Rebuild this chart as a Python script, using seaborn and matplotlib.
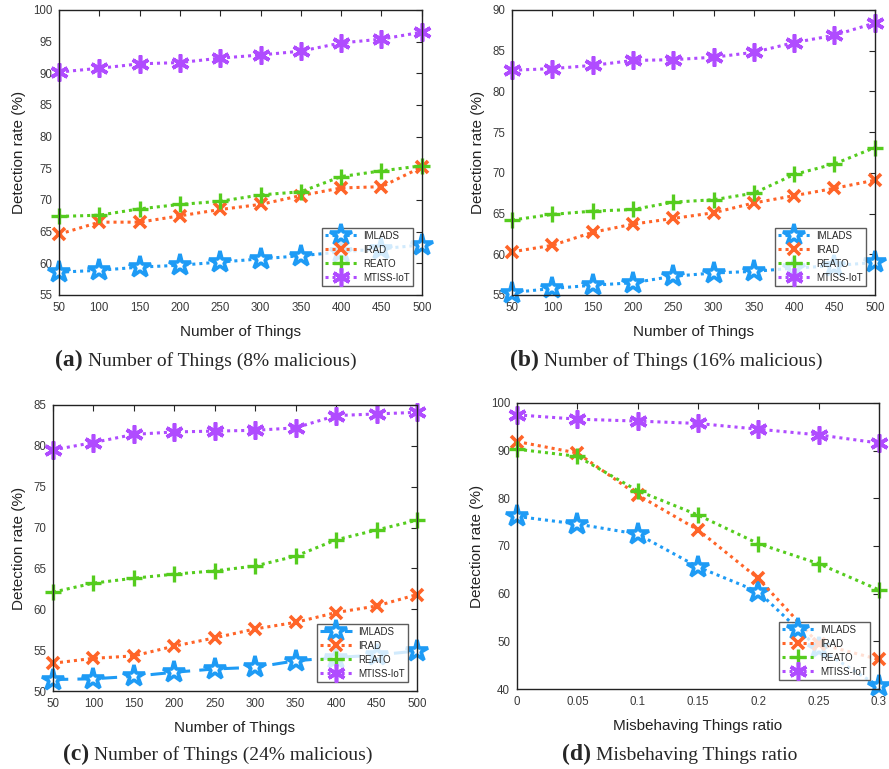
import numpy as np
import pandas as pd
import matplotlib
matplotlib.use("Agg")
import matplotlib.pyplot as plt
import seaborn as sns

sns.set_style("white")
plt.rcParams['font.family'] = ['Liberation Sans', 'DejaVu Sans']

# ── Data ──────────────────────────────────────────────
things = [50, 100, 150, 200, 250, 300, 350, 400, 450, 500]
ratio = [0, 0.05, 0.1, 0.15, 0.2, 0.25, 0.3]

a_imlads = [58.6, 58.9, 59.4, 59.7, 60.2, 60.7, 61.2, 61.8, 62.3, 62.9]
a_irad   = [64.6, 66.5, 66.5, 67.5, 68.5, 69.3, 70.7, 71.9, 72.1, 75.2]
a_reato  = [67.4, 67.6, 68.6, 69.3, 69.8, 70.8, 71.3, 73.7, 74.6, 75.4]
a_mtiss  = [90.2, 90.8, 91.5, 91.7, 92.4, 92.9, 93.5, 94.8, 95.4, 96.5]

b_imlads = [55.3, 55.8, 56.2, 56.5, 57.3, 57.7, 57.9, 58.3, 58.6, 59.0]
b_irad   = [60.3, 61.1, 62.7, 63.7, 64.4, 65.1, 66.3, 67.2, 68.1, 69.1]
b_reato  = [64.2, 64.9, 65.3, 65.5, 66.4, 66.7, 67.5, 69.8, 71.1, 73.1]
b_mtiss  = [82.6, 82.8, 83.2, 83.8, 83.9, 84.2, 84.8, 86.0, 86.9, 88.4]

c_imlads = [51.4, 51.5, 51.8, 52.3, 52.7, 52.9, 53.7, 54.1, 54.4, 54.9]
c_irad   = [53.4, 54.0, 54.3, 55.5, 56.5, 57.6, 58.4, 59.6, 60.4, 61.8]
c_reato  = [62.1, 63.2, 63.8, 64.3, 64.7, 65.3, 66.5, 68.5, 69.7, 70.9]
c_mtiss  = [79.5, 80.4, 81.4, 81.7, 81.8, 81.9, 82.2, 83.7, 83.9, 84.1]

d_imlads = [76.2, 74.6, 72.5, 65.6, 60.4, 48.5, 40.6]
d_irad   = [91.9, 89.5, 80.7, 73.4, 63.2, 49.5, 46.2]
d_reato  = [90.3, 88.8, 81.6, 76.5, 70.5, 66.3, 60.8]
d_mtiss  = [97.5, 96.6, 96.2, 95.7, 94.5, 93.3, 91.6]

names = ['IMLADS', 'IRAD', 'REATO', 'MTISS-IoT']
colors = ['#1E9BF5', '#FF6428', '#55CC1E', '#B04CFF']
dotted = (0, (1, 1.3))

# marker styles per method
mk = {
    'IMLADS':    dict(marker='*', markersize=16, markerfacecolor='white', markeredgewidth=2.6),
    'IRAD':      dict(marker='x', markersize=9, markeredgewidth=2.6),
    'REATO':     dict(marker='+', markersize=12, markeredgewidth=2.4),
    'MTISS-IoT': dict(marker=(6, 2, 0), markersize=13, markeredgewidth=2.6),
}

# ── Figure Setup ──────────────────────────────────────
W, H = 889, 769
fig = plt.figure(figsize=(W / 100, H / 100), dpi=100, facecolor='white')

panels = [
    dict(rect=[0.0664, 0.6164, 0.408, 0.3706], x=things,
         ys=[a_imlads, a_irad, a_reato, a_mtiss], ylim=(55, 100), yt=np.arange(55, 101, 5),
         xlim=(50, 500), xlabel='Number of Things',
         tag='(a)', cap='Number of Things (8% malicious)', capxy=(55, 366), dash0=False),
    dict(rect=[0.5760, 0.6164, 0.408, 0.3706], x=things,
         ys=[b_imlads, b_irad, b_reato, b_mtiss], ylim=(55, 90), yt=np.arange(55, 91, 5),
         xlim=(50, 500), xlabel='Number of Things',
         tag='(b)', cap='Number of Things (16% malicious)', capxy=(510, 366), dash0=False),
    dict(rect=[0.0596, 0.1014, 0.4094, 0.372], x=things,
         ys=[c_imlads, c_irad, c_reato, c_mtiss], ylim=(50, 85), yt=np.arange(50, 86, 5),
         xlim=(50, 500), xlabel='Number of Things',
         tag='(c)', cap='Number of Things (24% malicious)', capxy=(63, 760), dash0=True),
    dict(rect=[0.5816, 0.1040, 0.407, 0.372], x=ratio,
         ys=[d_imlads, d_irad, d_reato, d_mtiss], ylim=(40, 100), yt=np.arange(40, 101, 10),
         xlim=(0, 0.3), xlabel='Misbehaving Things ratio',
         tag='(d)', cap='Misbehaving Things ratio', capxy=(562, 760), dash0=False),
]

serif = ['Liberation Serif', 'DejaVu Serif']
tags = []

for p in panels:
    ax = fig.add_axes(p['rect'])
    for i, (name, col) in enumerate(zip(names, colors)):
        ls = (0, (5, 3)) if (i == 0 and p['dash0']) else dotted
        sns.lineplot(x=p['x'], y=p['ys'][i], ax=ax, color=col, linestyle=ls,
                     linewidth=2.2, markeredgecolor=col, label=name,
                     clip_on=False, zorder=3, **mk[name])
    ax.set_xlim(*p['xlim'])
    ax.set_ylim(*p['ylim'])
    ax.set_xticks(p['x'])
    ax.set_xticklabels([f'{v:g}' for v in p['x']])
    ax.set_yticks(p['yt'])
    ax.tick_params(direction='in', top=True, right=True, length=4, width=0.8,
                   labelsize=8.3, labelcolor='#3a3a3a', pad=5)
    for s in ax.spines.values():
        s.set_linewidth(1.0)
        s.set_color('#222222')
        s.set_zorder(4)
    ax.set_xlabel(p['xlabel'], fontsize=11, color='#222222', labelpad=8)
    ax.set_ylabel('Detection rate (%)', fontsize=11, color='#222222', labelpad=5)

    leg = ax.legend(loc='lower right', fontsize=7, handlelength=3.3,
                    borderaxespad=0.95, labelspacing=0.42, frameon=True,
                    fancybox=False, borderpad=0.3, handletextpad=0.6)
    leg.get_frame().set_edgecolor('#333333')
    leg.get_frame().set_linewidth(1.0)
    leg.set_zorder(5)

    # sub-figure caption: bold tag + serif text
    cx, cy = p['capxy']
    t = fig.text(cx / W, 1 - cy / H, p['tag'], family=serif,
                 fontsize=17, fontweight='bold', ha='left', va='baseline')
    tags.append((t, p['cap'], cy))

fig.canvas.draw()
rend = fig.canvas.get_renderer()
for t, cap, cy in tags:
    bb = t.get_window_extent(renderer=rend)
    fig.text((bb.x1 + 5) / W, 1 - cy / H, cap, family=serif,
             fontsize=14, ha='left', va='baseline')

fig.savefig('out.png', dpi=100, facecolor='white')
